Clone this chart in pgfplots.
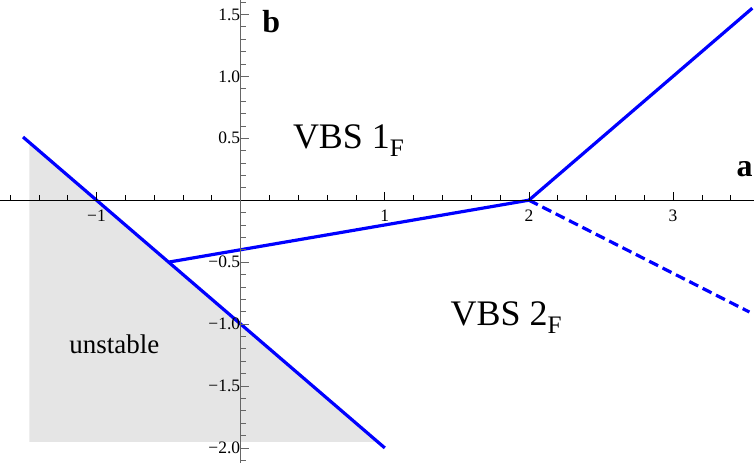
\documentclass[border=0pt]{standalone}
\usepackage{pgfplots}
\pgfplotsset{compat=1.18}
\usepackage{fontspec}
\setmainfont{Liberation Serif}

\definecolor{regiongray}{RGB}{229,229,229}
\definecolor{lineblue}{RGB}{0,0,255}

\begin{document}
\begin{tikzpicture}
\begin{axis}[
    scale only axis,
    width=754pt, height=463pt,
    xmin=-1.667, xmax=3.559,
    ymin=-2.121, ymax=1.613,
    axis lines=middle,
    axis on top,
    axis line style={-, line width=0.8pt},
    y axis line style={gray!80!black},
    xtick={-1,1,2,3},
    xticklabels={−1,1,2,3},
    ytick={-2,-1.5,-1,-0.5,0.5,1,1.5},
    yticklabels={−2.0,−1.5,−1.0,−0.5,0.5,1.0,1.5},
    minor xtick={-1.6,-1.4,-1.2,-0.8,-0.6,-0.4,-0.2,0.2,0.4,0.6,0.8,1.2,1.4,1.6,1.8,2.2,2.4,2.6,2.8,3.2,3.4},
    minor ytick={-2.1,-1.9,-1.8,-1.7,-1.6,-1.4,-1.3,-1.2,-1.1,-0.9,-0.8,-0.7,-0.6,-0.4,-0.3,-0.2,-0.1,0.1,0.2,0.3,0.4,0.6,0.7,0.8,0.9,1.1,1.2,1.3,1.4,1.6},
    tick align=inside,
    major tick length=8pt,
    minor tick length=5pt,
    x tick style={line width=0.7pt, black},
    y tick style={line width=0.7pt, gray!80!black},
    xticklabel style={font=\fontsize{17.5}{20}\selectfont, yshift=-6pt},
    yticklabel style={font=\fontsize{17.5}{20}\selectfont, xshift=3pt},
    clip=false,
]
% unstable region
\addplot[fill=regiongray, draw=none] coordinates {(-1.466,0.466) (0.952,-1.952) (-1.466,-1.952)} -- cycle;
% phase boundaries
\addplot[lineblue, line width=3.2pt] coordinates {(-1.51,0.51) (1.0,-2.0)};
\addplot[lineblue, line width=3.2pt] coordinates {(-0.5,-0.5) (2.0,0.0)};
\addplot[lineblue, line width=3.2pt] coordinates {(2.0,0.0) (3.55,1.55)};
\addplot[lineblue, line width=3.2pt, dash pattern=on 10pt off 5pt] coordinates {(2.0,0.0) (3.53,-0.903)};

\node[anchor=base west, inner sep=0pt, font=\fontsize{36}{40}\selectfont] at (axis cs:0.362,0.42) {VBS 1\textsubscript{F}};
\node[anchor=base west, inner sep=0pt, font=\fontsize{36}{40}\selectfont] at (axis cs:1.456,-1.01) {VBS 2\textsubscript{F}};
\node[anchor=base west, inner sep=0pt, font=\fontsize{27}{30}\selectfont] at (axis cs:-1.19,-1.234) {unstable};
\node[anchor=base west, inner sep=0pt, font=\fontsize{32}{36}\selectfont\bfseries] at (axis cs:0.15,1.35) {b};
\node[anchor=base west, inner sep=0pt, font=\fontsize{32}{36}\selectfont\bfseries] at (axis cs:3.44,0.19) {a};
\end{axis}
\end{tikzpicture}
\end{document}
